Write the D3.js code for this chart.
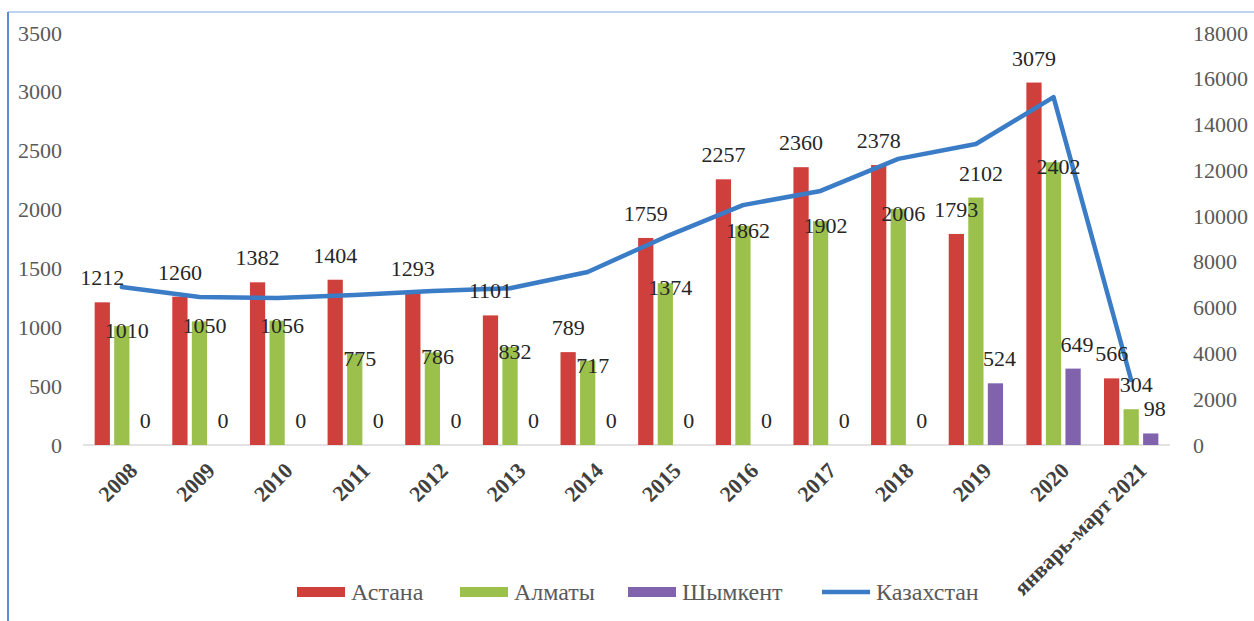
<!DOCTYPE html>
<html>
<head>
<meta charset="utf-8">
<script src="https://cdn.jsdelivr.net/npm/d3@7"></script>
<style>
  body { margin: 0; background: #fff; }
</style>
</head>
<body>
<svg id="chart" width="1254" height="621"></svg>
<script>
const categories = ["2008","2009","2010","2011","2012","2013","2014","2015","2016","2017","2018","2019","2020","январь-март 2021"];
const astana   = [1212,1260,1382,1404,1293,1101,789,1759,2257,2360,2378,1793,3079,566];
const almaty   = [1010,1050,1056,775,786,832,717,1374,1862,1902,2006,2102,2402,304];
const shymkent = [0,0,0,0,0,0,0,0,0,0,0,524,649,98];
const kazakhstan = [6900,6470,6420,6550,6730,6850,7560,9090,10480,11100,12500,13150,15200,2840];
const leftTicks = [0,500,1000,1500,2000,2500,3000,3500];
const rightTicks = [0,2000,4000,6000,8000,10000,12000,14000,16000,18000];
const seriesNames = ["Астана","Алматы","Шымкент"];
const lineName = "Казахстан";

const colors = {"Астана":"#cf403c","Алматы":"#9bc14c","Шымкент":"#8062ad"};
const lineColor = "#3b7cc7";
const serif = "'Liberation Serif'";

const svg = d3.select("#chart");
const plotTop = 33, plotBottom = 445, plotLeft = 83, plotRight = 1170;

// frame
svg.append("line").attr("x1",8).attr("x2",1254).attr("y1",12).attr("y2",12)
  .attr("stroke","#a9c4e8").attr("stroke-width",1.5);
svg.append("line").attr("x1",8).attr("x2",8).attr("y1",12).attr("y2",621)
  .attr("stroke","#5a8fd8").attr("stroke-width",2);

const x0 = d3.scaleBand().domain(categories).range([plotLeft,plotRight])
  .paddingInner(0.3).paddingOuter(0.15);
const x1 = d3.scaleBand().domain(seriesNames).range([0,x0.bandwidth()]).paddingInner(0.22);
const yL = d3.scaleLinear().domain([0,3500]).range([plotBottom,plotTop]);
const yR = d3.scaleLinear().domain([0,18000]).range([plotBottom,plotTop]);

// axes
const axL = svg.append("g").attr("transform",`translate(${plotLeft-21},0)`)
  .call(d3.axisLeft(yL).tickValues(leftTicks).tickFormat(d3.format("d")).tickSize(0).tickPadding(0));
const axR = svg.append("g").attr("transform",`translate(${plotRight+23},0)`)
  .call(d3.axisRight(yR).tickValues(rightTicks).tickFormat(d3.format("d")).tickSize(0).tickPadding(0));
[axL,axR].forEach(a => {
  a.attr("font-family",null).attr("font-size",null);
  a.select(".domain").remove();
  a.selectAll("text").attr("style",`font-family:${serif};font-size:22px`).attr("fill","#595959");
});

svg.append("line").attr("x1",plotLeft).attr("x2",plotRight)
  .attr("y1",plotBottom).attr("y2",plotBottom)
  .attr("stroke","#d9d9d9").attr("stroke-width",1.5);

// category labels
svg.append("g").selectAll("text").data(categories).enter().append("text")
  .attr("transform",d=>`translate(${x0(d)+x0.bandwidth()/2+6},${plotBottom+16}) rotate(-45)`)
  .attr("text-anchor","end").attr("dy","0.7em")
  .attr("style",`font-family:${serif};font-size:22px;font-weight:bold`)
  .attr("fill","#404040")
  .text(d=>d);

// bars
const seriesData = [astana, almaty, shymkent];
const groups = svg.append("g").selectAll("g").data(categories).enter().append("g")
  .attr("transform",d=>`translate(${x0(d)},0)`);
groups.selectAll("rect")
  .data((d,i)=>seriesNames.map((s,j)=>({s:s,v:seriesData[j][i]})))
  .enter().append("rect")
  .attr("x",d=>x1(d.s)).attr("width",x1.bandwidth())
  .attr("y",d=>yL(d.v)).attr("height",d=>plotBottom-yL(d.v))
  .attr("fill",d=>colors[d.s]);

// line
const line = d3.line().x((d,i)=>x0(categories[i])+x0.bandwidth()/2).y(d=>yR(d));
svg.append("path").datum(kazakhstan).attr("d",line)
  .attr("fill","none").attr("stroke",lineColor).attr("stroke-width",4.5)
  .attr("stroke-linejoin","round").attr("stroke-linecap","round");

// data labels
const lbl = svg.append("g").attr("fill","#262626").attr("text-anchor","middle");
function addLabel(x,y,t){
  lbl.append("text").attr("x",x).attr("y",y)
    .attr("style",`font-family:${serif};font-size:22px`).text(t);
}
categories.forEach((c,i)=>{
  addLabel(x0(c)+x1("Астана")+x1.bandwidth()/2, yL(astana[i])-17, astana[i]);
  // almaty label above the bar when it would hit the astana label, else just below the top
  const above = almaty[i] < 500 || almaty[i] > astana[i];
  const ya = above ? yL(almaty[i])-17 : yL(almaty[i])+12;
  addLabel(x0(c)+x1("Алматы")+x1.bandwidth()/2+5, ya, almaty[i]);
  addLabel(x0(c)+x1("Шымкент")+x1.bandwidth()/2+4, yL(shymkent[i])-17, shymkent[i]);
});

// legend
const legendItems = seriesNames.concat([lineName]);
const legendX = [297,460,628,822];
const leg = svg.append("g");
legendItems.forEach((name,i)=>{
  const g = leg.append("g").attr("transform",`translate(${legendX[i]},592)`);
  if (name===lineName) {
    g.append("line").attr("x1",0).attr("x2",48).attr("y1",0).attr("y2",0)
      .attr("stroke",lineColor).attr("stroke-width",4.5);
  } else {
    g.append("rect").attr("x",0).attr("y",-5).attr("width",48).attr("height",10)
      .attr("fill",colors[name]);
  }
  g.append("text").attr("x",54).attr("y",0).attr("dy","0.35em")
    .attr("style",`font-family:${serif};font-size:24px`).attr("fill","#595959").text(name);
});
</script>
</body>
</html>
